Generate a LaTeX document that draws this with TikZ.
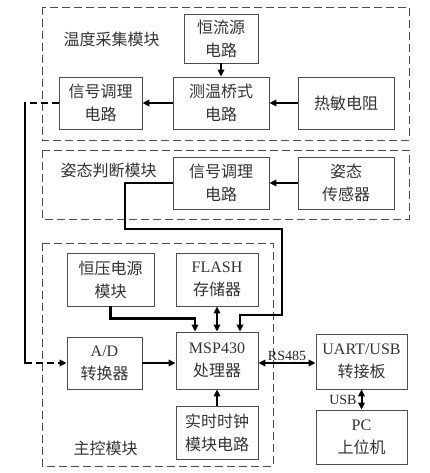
\documentclass[tikz,border=0pt]{standalone}
\usepackage{fontspec}
\setmainfont{Liberation Serif}
\newfontfamily\cjk{Noto Sans CJK SC}
\usetikzlibrary{arrows.meta, calc}

\begin{document}
\begin{tikzpicture}[x=1pt, y=-1pt,
	blk/.style={draw=black!70, line width=0.8pt, align=center, inner sep=0pt, text=black!80,
		font=\fontsize{16}{23}\selectfont\cjk},
	mdl/.style={draw=black!70, line width=0.8pt, dash pattern=on 8pt off 4pt},
	lbl/.style={text=black!80, font=\fontsize{16}{20}\selectfont\cjk},
	tag/.style={text=black!85, font=\fontsize{14}{16}\selectfont\rmfamily, inner sep=1pt},
	bus/.style={line width=2.5pt},
	sig/.style={line width=2pt},
	dsh/.style={dash pattern=on 7pt off 4pt},
	>={Triangle[length=7pt, width=6.5pt]}]
		\useasboundingbox (0,0) rectangle (429,473);

		\draw[mdl] (42,7) rectangle (409,140);
		\draw[mdl] (42,150) rectangle (409,219);
		\draw[mdl] (42,243) rectangle (273,466);

		\node[lbl] (t1) at (111.5,39) {温度采集模块};
		\node[lbl] (t2) at (108.5,170) {姿态判断模块};
		\node[lbl] (t3) at (105.5,448) {主控模块};

		\node[blk, minimum width=74pt, minimum height=49pt] (hl) at (221,38.5) {恒流源\\电路};
		\node[blk, minimum width=96pt, minimum height=52pt] (cw) at (221,103) {测温桥式\\电路};
		\node[blk, minimum width=83pt, minimum height=52pt] (xt1) at (100.5,103) {信号调理\\电路};
		\node[blk, minimum width=96pt, minimum height=52pt] (rm) at (346,103) {热敏电阻};
		\node[blk, minimum width=96pt, minimum height=52pt] (xt2) at (221,183) {信号调理\\电路};
		\node[blk, minimum width=96pt, minimum height=52pt] (zt) at (346,183) {姿态\\传感器};
		\node[blk, minimum width=87pt, minimum height=53pt] (hy) at (110.5,279.5) {恒压电源\\模块};
		\node[blk, minimum width=82pt, minimum height=53pt] (fl) at (217,279.5) {{\rmfamily FLASH}\\存储器};
		\node[blk, minimum width=75pt, minimum height=52pt] (ad) at (104.5,363) {{\rmfamily A/D}\\转换器};
		\node[blk, minimum width=82pt, minimum height=57pt] (msp) at (217,360.5) {{\rmfamily MSP430}\\处理器};
		\node[blk, minimum width=82pt, minimum height=53pt] (rtc) at (217,432.5) {实时时钟\\模块电路};
		\node[blk, minimum width=91pt, minimum height=55pt] (uart) at (361.5,361.5) {{\rmfamily UART/USB}\\转接板};
		\node[blk, minimum width=91pt, minimum height=54pt] (pc) at (361.5,437) {{\rmfamily PC}\\上位机};

		\coordinate (p1) at (25,103);
		\coordinate (p2) at (25,363);
		\coordinate (q1) at (125,229);
		\coordinate (q2) at (282,315);

		\draw[->, sig] (hl) -- (cw);
		\draw[->, bus] (cw) -- (xt1);
		\draw[->, sig] (rm) -- (cw);
		\draw[->, sig] (zt) -- (xt2);
		\draw[bus, dsh] (xt1.west) -- (p1);
		\draw[bus] ($(p1)+(0,-1.25)$) -- ($(p2)+(0,1.25)$);
		\draw[->, bus, dsh] (p2) -- (ad.west);
		\draw[->, bus] (xt2.west) -| (q1) -| (q2) -| ($(msp.north)+(23,0)$);
		\draw[->, bus] (hy.south) |- ($(msp.north)+(-22,-13)$) -- ($(msp.north)+(-22,0)$);
		\draw[<->, bus] (fl) -- (msp);
		\draw[->, bus] (ad.east) -- (ad.east -| msp.west);
		\draw[<->, sig] (ad.east -| msp.east) -- node[tag, above] (rs) {RS485} (ad.east -| uart.west);
		\draw[<->, sig] (uart) -- node[tag, left=3pt] (usb) {USB} (pc);
		\draw[->, bus] (rtc) -- (msp);

	\end{tikzpicture}
\end{document}
